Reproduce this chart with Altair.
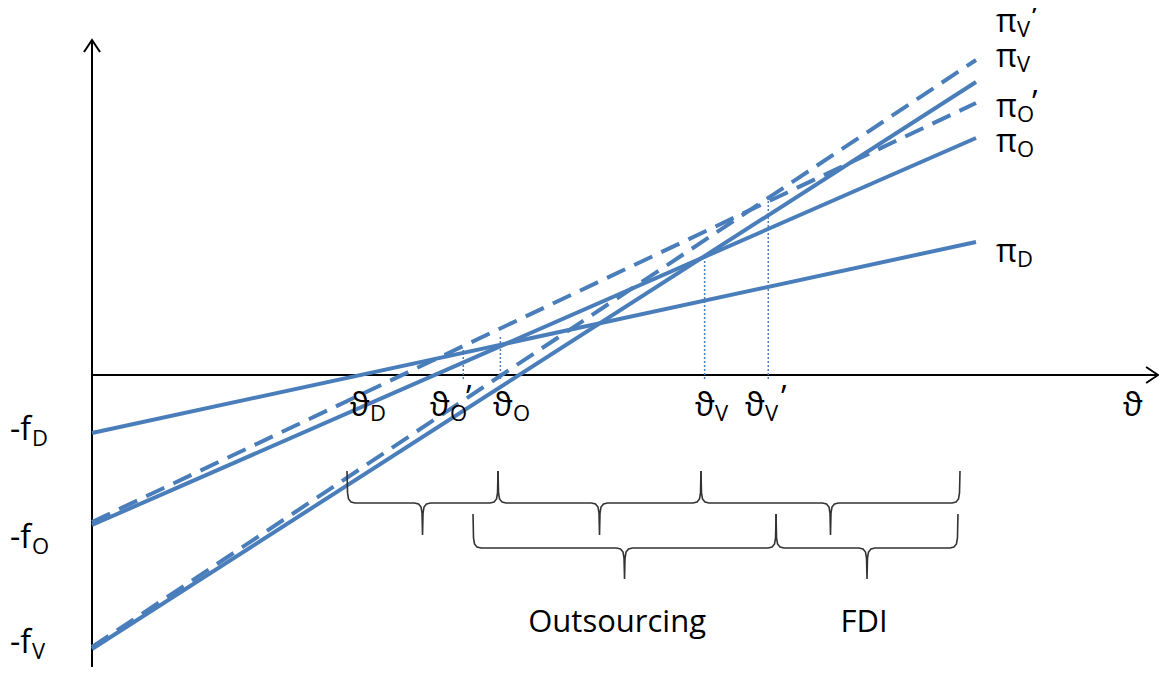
import altair as alt
import pandas as pd

# ---------------- data (theta units horizontally, profit units vertically) -------------
line_names = ["pi_D", "pi_O", "pi_V", "pi_O'", "pi_V'"]
line_intercepts = [-1.16, -3.00, -5.48, -2.94, -5.44]     # value at theta = 0  (-f)
line_end_values = [2.66, 4.74, 5.86, 5.44, 6.30]          # value at theta = 10
line_dashed = [False, False, False, True, True]
theta_start = 0.0
theta_end = 10.0

cutoff_theta = [4.20, 4.62, 6.93, 7.65]                    # thetaO', thetaO, thetaV, thetaV'
cutoff_top = [0.50, 0.76, 2.36, 3.50]

brace_start = [2.885, 4.593, 6.889, 4.310, 7.738]
brace_end = [4.593, 6.889, 9.819, 7.738, 9.796]
brace_row = [0, 0, 0, 1, 1]
row_mid = [-2.56, -3.46]
row_top = [-1.92, -2.78]
row_tip = [-3.20, -4.08]

label_main = ["π", "π", "π", "π", "π", "ϑ", "ϑ", "ϑ", "ϑ", "ϑ", "ϑ", "-f", "-f", "-f"]
label_sub = ["V", "V", "O", "O", "D", "D", "O", "O", "V", "V", "", "D", "O", "V"]
label_prime = [True, False, True, False, False, False, True, False, False, True, False, False, False, False]
label_x = [10.226, 10.226, 10.226, 10.226, 10.226, 2.919, 3.824, 4.536, 6.821, 7.387, 11.663, -0.928, -0.928, -0.928]
label_y = [6.86, 6.16, 5.16, 4.46, 2.26, -0.82, -0.82, -0.82, -0.82, -0.82, -0.82, -1.30, -3.46, -5.56]

bottom_labels = ["Outsourcing", "FDI"]
bottom_x = [5.94, 8.733]
bottom_y = [-5.14, -5.14]

y_axis_top = 6.70
x_axis_right = 12.06

# ---------------- layout -------------
W, H = 1151, 659
PX, PY = 88.4, 50.0          # pixels per unit
ORIGIN_X, ORIGIN_Y = 84, 367  # origin position inside plot (px)
x_dom = [-ORIGIN_X / PX, (W - ORIGIN_X) / PX]
y_dom = [-(H - ORIGIN_Y) / PY, ORIGIN_Y / PY]
hx, hy = 1.0 / PX, 1.0 / PY

BLUE = "#4A7EBB"
FONT = "Open Sans, DejaVu Sans"


def X(f):
    return alt.X(f, type="quantitative", scale=alt.Scale(domain=x_dom, nice=False, zero=False), axis=None)


def Y(f):
    return alt.Y(f, type="quantitative", scale=alt.Scale(domain=y_dom, nice=False, zero=False), axis=None)


# profit lines
rows = []
for n, a, b, d in zip(line_names, line_intercepts, line_end_values, line_dashed):
    rows.append(dict(name=n, x=theta_start, y=a, dashed=d, o=0))
    rows.append(dict(name=n, x=theta_end, y=b, dashed=d, o=1))
ldf = pd.DataFrame(rows)
solid = alt.Chart(ldf[~ldf.dashed]).mark_line(color=BLUE, strokeWidth=4, strokeCap="butt").encode(
    x=X("x"), y=Y("y"), detail="name:N", order="o:Q")
dashed = alt.Chart(ldf[ldf.dashed]).mark_line(color=BLUE, strokeWidth=4, strokeCap="butt",
                                               strokeDash=[20, 10]).encode(
    x=X("x"), y=Y("y"), detail="name:N", order="o:Q")

# dotted cut-off lines
cdf = pd.DataFrame(dict(x=cutoff_theta, y=[-0.08] * len(cutoff_theta), y2=cutoff_top))
cut = alt.Chart(cdf).mark_rule(color=BLUE, strokeWidth=1.5, strokeDash=[2, 2]).encode(
    x=X("x"), y=Y("y"), y2="y2")

# axes
adf = pd.DataFrame([
    dict(name="y", x=0.0, y=y_dom[0], o=0), dict(name="y", x=0.0, y=y_axis_top, o=1),
    dict(name="x", x=0.0, y=0.0, o=0), dict(name="x", x=x_axis_right, y=0.0, o=1),
    dict(name="ya", x=-8 * hx, y=y_axis_top - 12 * hy, o=0), dict(name="ya", x=0.0, y=y_axis_top, o=1),
    dict(name="ya", x=8 * hx, y=y_axis_top - 12 * hy, o=2),
    dict(name="xa", x=x_axis_right - 12 * hx, y=8 * hy, o=0), dict(name="xa", x=x_axis_right, y=0.0, o=1),
    dict(name="xa", x=x_axis_right - 12 * hx, y=-8 * hy, o=2),
])
axes = alt.Chart(adf).mark_line(color="black", strokeWidth=2).encode(
    x=X("x"), y=Y("y"), detail="name:N", order="o:Q")

# braces
brows = []
for i, (x0, x1, r) in enumerate(zip(brace_start, brace_end, brace_row)):
    ym, yt, yb = row_mid[r], row_top[r], row_tip[r]
    xm = (x0 + x1) / 2
    pts = [(x0, yt), (x0 + 0.5 * hx, ym + 10 * hy), (x0 + 1.5 * hx, ym + 4 * hy), (x0 + 4 * hx, ym + 1 * hy),
           (x0 + 8 * hx, ym),
           (xm - 8 * hx, ym), (xm - 4 * hx, ym - 1 * hy), (xm - 1.5 * hx, ym - 4 * hy),
           (xm - 0.5 * hx, ym - 10 * hy), (xm, yb),
           (xm + 0.5 * hx, ym - 10 * hy), (xm + 1.5 * hx, ym - 4 * hy), (xm + 4 * hx, ym - 1 * hy),
           (xm + 8 * hx, ym),
           (x1 - 8 * hx, ym), (x1 - 4 * hx, ym + 1 * hy), (x1 - 1.5 * hx, ym + 4 * hy),
           (x1 - 0.5 * hx, ym + 10 * hy), (x1, yt)]
    for k, (px, py) in enumerate(pts):
        brows.append(dict(b=i, x=px, y=py, o=k))
braces = alt.Chart(pd.DataFrame(brows)).mark_line(color="#333333", strokeWidth=1.6).encode(
    x=X("x"), y=Y("y"), detail="b:N", order="o:Q")

# labels
sub_dx = {"π": 21, "ϑ": 20, "-f": 22}
sub_dy = {"π": 5, "ϑ": 5, "-f": 6}
prime_dx = {"π": 36, "ϑ": 36, "-f": 40}
prime_dy = {"π": -3, "ϑ": -7, "-f": 0}
mains, subs, primes = [], [], []
for m, s, p, x, y in zip(label_main, label_sub, label_prime, label_x, label_y):
    mains.append(dict(x=x, y=y, t=m))
    if s:
        subs.append(dict(x=x + sub_dx[m] * hx, y=y - sub_dy[m] * hy, t=s))
    if p:
        primes.append(dict(x=x + prime_dx[m] * hx, y=y - prime_dy[m] * hy, t="’"))

main_t = alt.Chart(pd.DataFrame(mains)).mark_text(align="left", baseline="alphabetic", fontSize=32,
                                                   font=FONT, color="black").encode(
    x=X("x"), y=Y("y"), text="t:N")
sub_t = alt.Chart(pd.DataFrame(subs)).mark_text(align="left", baseline="alphabetic", fontSize=22,
                                                 font=FONT, color="black").encode(
    x=X("x"), y=Y("y"), text="t:N")
prime_t = alt.Chart(pd.DataFrame(primes)).mark_text(align="left", baseline="alphabetic", fontSize=32,
                                                     font=FONT, color="black").encode(
    x=X("x"), y=Y("y"), text="t:N")
bottom_t = alt.Chart(pd.DataFrame(dict(x=bottom_x, y=bottom_y, t=bottom_labels))).mark_text(
    align="center", baseline="alphabetic", fontSize=31, font=FONT, color="black").encode(
    x=X("x"), y=Y("y"), text="t:N")

chart = alt.layer(axes, solid, dashed, cut, braces, main_t, sub_t, prime_t, bottom_t).properties(
    width=W, height=H, autosize="none", padding=0, background="white"
).configure_view(stroke=None)

chart.save("out.html", embed_options={"renderer": "svg", "actions": False})
